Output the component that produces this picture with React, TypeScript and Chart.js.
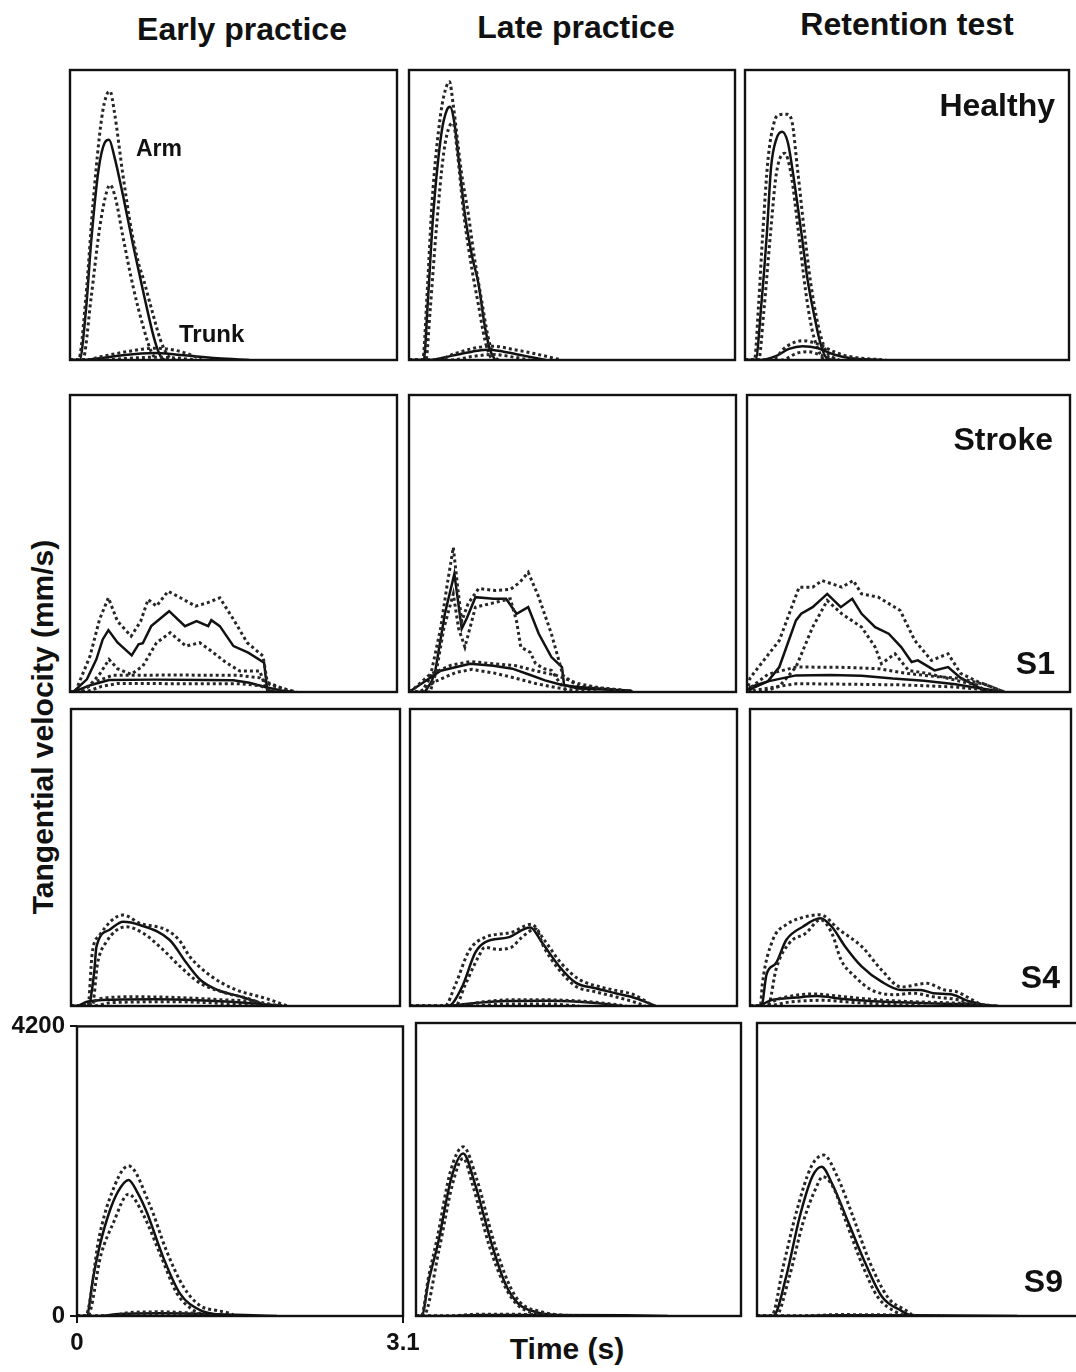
import React, { useEffect, useRef } from "react";
import { Chart, registerables } from "chart.js";

Chart.register(...registerables);

type Pt = [number, number];

// Time axis (s) and velocity axis (mm/s) limits shared by every panel
const timeRange: Pt = [0, 3.1];
const velocityRange: Pt = [0, 4200];
const timeTicks = [0, 3.1];
const velocityTicks = [0, 4200];

const columnTitles = ["Early practice", "Late practice", "Retention test"];
const rowTags = ["Healthy", "S1", "S4", "S9"];

// ---------- Healthy ----------
const healthyEarlyArm: Pt[] = [[0, 0], [0.09, 0], [0.15, 700], [0.2, 1700], [0.27, 2750], [0.33, 3150], [0.37, 3190], [0.42, 2950], [0.5, 2400], [0.6, 1650], [0.7, 950], [0.8, 300], [0.86, 50], [0.9, 0]];
const healthyEarlyArmHi: Pt[] = [[0, 0], [0.08, 0], [0.15, 900], [0.22, 2300], [0.3, 3500], [0.35, 3850], [0.38, 3890], [0.42, 3600], [0.5, 2700], [0.58, 1900], [0.65, 1400], [0.7, 1150], [0.78, 700], [0.86, 280], [0.93, 60], [1.0, 0]];
const healthyEarlyArmLo: Pt[] = [[0, 0], [0.12, 0], [0.2, 900], [0.28, 1900], [0.35, 2450], [0.38, 2534], [0.43, 2350], [0.5, 1800], [0.6, 1050], [0.7, 450], [0.77, 120], [0.82, 0]];
const healthyEarlyTrunk: Pt[] = [[0, 0], [0.1, 0], [0.3, 30], [0.5, 70], [0.8, 100], [1.0, 80], [1.2, 50], [1.4, 25], [1.7, 0]];
const healthyEarlyTrunkHi: Pt[] = [[0, 0], [0.15, 0], [0.3, 50], [0.5, 110], [0.8, 170], [1.0, 140], [1.15, 70], [1.25, 0]];
const healthyEarlyTrunkLo: Pt[] = [[0, 0], [0.3, 0], [0.5, 20], [0.8, 40], [1.0, 30], [1.2, 0]];

const healthyLateArm: Pt[] = [[0, 0], [0.14, 0], [0.18, 870], [0.23, 2100], [0.31, 3300], [0.36, 3620], [0.39, 3668], [0.43, 3450], [0.48, 2800], [0.53, 2124], [0.6, 1500], [0.66, 1110], [0.72, 500], [0.77, 150], [0.82, 0]];
const healthyLateArmHi: Pt[] = [[0, 0], [0.13, 0], [0.17, 900], [0.22, 2300], [0.3, 3550], [0.36, 3980], [0.385, 4030], [0.42, 3700], [0.5, 2700], [0.563, 2124], [0.62, 1500], [0.69, 869], [0.75, 350], [0.8, 80], [0.85, 0]];
const healthyLateArmLo: Pt[] = [[0, 0], [0.16, 0], [0.2, 700], [0.26, 1900], [0.33, 3000], [0.39, 3400], [0.42, 3430], [0.46, 3000], [0.52, 2124], [0.6, 1300], [0.66, 800], [0.72, 300], [0.77, 60], [0.8, 0]];
const healthyLateTrunk: Pt[] = [[0, 0], [0.2, 0], [0.4, 60], [0.6, 120], [0.75, 150], [0.9, 120], [1.1, 60], [1.3, 0]];
const healthyLateTrunkHi: Pt[] = [[0, 0], [0.25, 0], [0.45, 100], [0.65, 180], [0.8, 200], [1.0, 150], [1.2, 90], [1.45, 0]];
const healthyLateTrunkLo: Pt[] = [[0, 0], [0.4, 0], [0.6, 50], [0.8, 80], [1.0, 40], [1.15, 0]];

const healthyRetentionArm: Pt[] = [[0, 0], [0.1, 0], [0.16, 870], [0.21, 1850], [0.25, 2800], [0.3, 3200], [0.355, 3306], [0.41, 3150], [0.46, 2700], [0.54, 1834], [0.6, 1150], [0.665, 627], [0.72, 250], [0.78, 30], [0.85, 0]];
const healthyRetentionArmHi: Pt[] = [[0, 0], [0.09, 0], [0.13, 800], [0.17, 1834], [0.22, 2900], [0.28, 3450], [0.32, 3548], [0.4, 3560], [0.45, 3450], [0.5, 2800], [0.57, 1834], [0.63, 1100], [0.7, 500], [0.77, 150], [0.85, 30], [0.9, 0]];
const healthyRetentionArmLo: Pt[] = [[0, 0], [0.13, 0], [0.18, 700], [0.244, 1834], [0.3, 2700], [0.38, 2993], [0.44, 2700], [0.513, 1834], [0.58, 1000], [0.64, 450], [0.7, 150], [0.75, 0]];
const healthyRetentionTrunk: Pt[] = [[0, 0], [0.15, 0], [0.3, 60], [0.42, 160], [0.55, 200], [0.7, 170], [0.85, 80], [1.0, 30], [1.3, 0]];
const healthyRetentionTrunkHi: Pt[] = [[0, 0], [0.25, 0], [0.4, 200], [0.55, 280], [0.7, 230], [0.85, 120], [1.0, 50], [1.35, 0]];
const healthyRetentionTrunkLo: Pt[] = [[0, 0], [0.35, 0], [0.5, 100], [0.6, 120], [0.75, 60], [0.9, 0]];

// ---------- Stroke S1 ----------
const s1EarlyArm: Pt[] = [[0, 0], [0.03, 0], [0.16, 179], [0.25, 461], [0.31, 743], [0.364, 875], [0.45, 700], [0.585, 518], [0.65, 673], [0.69, 690], [0.77, 931], [0.94, 1143], [1.09, 931], [1.2, 1002], [1.31, 931], [1.34, 1016], [1.42, 931], [1.55, 649], [1.69, 556], [1.84, 415], [1.87, 20], [1.95, 0]];
const s1EarlyArmHi: Pt[] = [[0, 0], [0.05, 0], [0.19, 508], [0.28, 1026], [0.364, 1332], [0.45, 1000], [0.58, 790], [0.67, 1000], [0.74, 1308], [0.82, 1214], [0.93, 1425], [1.05, 1330], [1.19, 1214], [1.3, 1260], [1.42, 1332], [1.55, 1026], [1.68, 697], [1.83, 508], [1.87, 137], [2.0, 60], [2.13, 0]];
const s1EarlyArmLo: Pt[] = [[0, 0], [0.1, 0], [0.19, 100], [0.28, 250], [0.37, 461], [0.45, 330], [0.58, 250], [0.69, 367], [0.82, 697], [0.95, 838], [1.1, 649], [1.23, 697], [1.36, 556], [1.48, 415], [1.61, 297], [1.8, 297], [1.85, 80], [1.9, 0]];
const s1EarlyTrunk: Pt[] = [[0, 0], [0.03, 0], [0.2, 100], [0.37, 170], [0.8, 175], [1.3, 170], [1.55, 165], [1.7, 130], [1.85, 70], [2.0, 20], [2.13, 0]];
const s1EarlyTrunkHi: Pt[] = [[0, 0], [0.1, 0], [0.25, 150], [0.4, 235], [1.0, 240], [1.6, 235], [1.8, 200], [1.9, 100], [2.05, 30], [2.15, 0]];
const s1EarlyTrunkLo: Pt[] = [[0, 0], [0.15, 0], [0.3, 80], [0.45, 120], [1.0, 118], [1.6, 118], [1.8, 90], [1.9, 30], [2.0, 0]];

const s1LateArm: Pt[] = [[0, 0], [0.15, 0], [0.215, 150], [0.25, 306], [0.34, 1106], [0.43, 1671], [0.5, 895], [0.55, 1050], [0.63, 1341], [0.8, 1320], [0.92, 1318], [1.02, 1106], [1.13, 1200], [1.23, 824], [1.35, 494], [1.45, 353], [1.47, 100], [1.6, 50], [2.1, 20], [2.12, 0]];
const s1LateArmHi: Pt[] = [[0, 0], [0.12, 0], [0.2, 200], [0.3, 900], [0.36, 1500], [0.42, 2046], [0.46, 1500], [0.5, 1000], [0.56, 1250], [0.66, 1463], [0.82, 1435], [0.96, 1450], [1.05, 1550], [1.13, 1693], [1.23, 1341], [1.35, 824], [1.46, 235], [1.6, 80], [2.0, 30], [2.1, 0]];
const s1LateArmLo: Pt[] = [[0, 0], [0.2, 0], [0.26, 300], [0.33, 900], [0.42, 1388], [0.47, 900], [0.53, 635], [0.63, 1200], [0.8, 1260], [0.96, 1318], [1.02, 1000], [1.06, 635], [1.15, 560], [1.2, 400], [1.28, 330], [1.35, 306], [1.42, 150], [1.5, 0]];
const s1LateTrunk: Pt[] = [[0, 0], [0.1, 100], [0.3, 300], [0.58, 400], [0.8, 370], [0.98, 330], [1.15, 240], [1.29, 165], [1.45, 100], [1.6, 70], [1.9, 40], [2.1, 0]];
const s1LateTrunkHi: Pt[] = [[0, 0], [0.05, 50], [0.2, 250], [0.4, 380], [0.58, 430], [0.8, 400], [1.0, 376], [1.2, 300], [1.4, 235], [1.6, 120], [1.8, 60], [2.0, 30], [2.1, 0]];
const s1LateTrunkLo: Pt[] = [[0, 0], [0.1, 0], [0.25, 150], [0.45, 280], [0.6, 320], [0.8, 270], [1.0, 200], [1.2, 120], [1.4, 60], [1.6, 20], [1.8, 0]];

const s1RetentionArm: Pt[] = [[0, 0], [0.03, 70], [0.2, 150], [0.31, 353], [0.47, 1012], [0.52, 1106], [0.63, 1200], [0.77, 1388], [0.9, 1200], [1.01, 1318], [1.1, 1106], [1.23, 917], [1.36, 824], [1.48, 635], [1.58, 424], [1.64, 447], [1.8, 306], [1.93, 353], [2.05, 200], [2.18, 100], [2.3, 0]];
const s1RetentionArmHi: Pt[] = [[0, 0], [0.03, 200], [0.31, 729], [0.5, 1482], [0.63, 1482], [0.72, 1576], [0.91, 1482], [1.02, 1576], [1.1, 1388], [1.26, 1341], [1.47, 1153], [1.61, 729], [1.77, 447], [1.93, 541], [2.05, 263], [2.21, 150], [2.47, 0]];
const s1RetentionArmLo: Pt[] = [[0, 0], [0.15, 0], [0.31, 80], [0.47, 353], [0.63, 917], [0.77, 1294], [0.91, 1106], [1.1, 917], [1.23, 635], [1.29, 400], [1.42, 541], [1.55, 306], [1.74, 260], [2.05, 150], [2.21, 100], [2.3, 0]];
const s1RetentionTrunk: Pt[] = [[0, 0], [0.05, 50], [0.2, 150], [0.47, 235], [0.8, 240], [1.1, 230], [1.4, 190], [1.7, 160], [2.0, 110], [2.2, 60], [2.47, 0]];
const s1RetentionTrunkHi: Pt[] = [[0, 0], [0.05, 80], [0.2, 250], [0.47, 353], [0.9, 350], [1.26, 330], [1.55, 260], [1.8, 220], [2.05, 190], [2.3, 100], [2.47, 0]];
const s1RetentionTrunkLo: Pt[] = [[0, 0], [0.1, 30], [0.47, 118], [1.0, 110], [1.5, 100], [2.0, 70], [2.3, 30], [2.47, 0]];

// ---------- Stroke S4 ----------
const s4EarlyArm: Pt[] = [[0, 0], [0.17, 0], [0.19, 150], [0.22, 500], [0.24, 839], [0.36, 1075], [0.49, 1192], [0.65, 1145], [0.93, 933], [1.09, 604], [1.22, 368], [1.38, 226], [1.6, 132], [1.79, 38], [1.85, 0]];
const s4EarlyArmHi: Pt[] = [[0, 0], [0.16, 0], [0.2, 750], [0.27, 1000], [0.49, 1287], [0.65, 1170], [0.9, 1075], [1.02, 930], [1.12, 697], [1.31, 433], [1.53, 245], [1.85, 100], [2.04, 0]];
const s4EarlyArmLo: Pt[] = [[0, 0], [0.2, 0], [0.25, 600], [0.33, 900], [0.52, 1120], [0.68, 1030], [0.87, 792], [1.03, 556], [1.22, 320], [1.47, 180], [1.72, 80], [1.82, 0]];
const s4EarlyTrunk: Pt[] = [[0, 0], [0.05, 0], [0.15, 60], [0.4, 90], [0.8, 95], [1.2, 80], [1.6, 50], [1.85, 20], [2.0, 0]];
const s4EarlyTrunkHi: Pt[] = [[0, 0], [0.1, 0], [0.3, 110], [0.6, 130], [1.0, 120], [1.4, 90], [1.75, 60], [1.9, 20], [2.0, 0]];
const s4EarlyTrunkLo: Pt[] = [[0, 0], [0.2, 0], [0.4, 50], [1.0, 60], [1.5, 30], [1.8, 0]];

const s4LateArm: Pt[] = [[0, 0], [0.364, 0], [0.49, 259], [0.62, 758], [0.71, 900], [0.93, 970], [1.14, 1111], [1.25, 900], [1.41, 570], [1.57, 330], [1.76, 250], [1.95, 180], [2.14, 110], [2.33, 0]];
const s4LateArmHi: Pt[] = [[0, 0], [0.33, 0], [0.43, 300], [0.56, 780], [0.71, 970], [0.96, 1040], [1.15, 1155], [1.27, 940], [1.43, 610], [1.6, 380], [1.86, 250], [2.12, 160], [2.31, 0]];
const s4LateArmLo: Pt[] = [[0, 0], [0.43, 0], [0.52, 287], [0.65, 700], [0.71, 830], [0.83, 800], [0.96, 830], [1.06, 970], [1.19, 1090], [1.27, 830], [1.41, 520], [1.57, 280], [1.76, 200], [1.95, 130], [2.14, 50], [2.23, 0]];
const s4LateTrunk: Pt[] = [[0, 0], [0.3, 0], [0.6, 40], [0.9, 70], [1.3, 75], [1.6, 60], [1.85, 30], [2.0, 0]];
const s4LateTrunkHi: Pt[] = [[0, 0], [0.4, 0], [0.7, 60], [1.0, 90], [1.4, 85], [1.7, 60], [1.95, 20], [2.05, 0]];
const s4LateTrunkLo: Pt[] = [[0, 0], [0.6, 0], [0.9, 30], [1.3, 30], [1.6, 0]];

const s4RetentionArm: Pt[] = [[0, 0], [0.11, 0], [0.16, 448], [0.25, 604], [0.35, 933], [0.51, 1121], [0.68, 1240], [0.79, 1121], [0.92, 839], [1.08, 556], [1.27, 344], [1.46, 226], [1.65, 226], [1.77, 180], [1.96, 160], [2.09, 80], [2.22, 30], [2.3, 0]];
const s4RetentionArmHi: Pt[] = [[0, 0], [0.1, 0], [0.12, 320], [0.22, 933], [0.35, 1150], [0.48, 1240], [0.68, 1290], [0.86, 1080], [1.08, 840], [1.27, 510], [1.46, 270], [1.71, 320], [1.87, 230], [2.0, 200], [2.13, 100], [2.25, 0]];
const s4RetentionArmLo: Pt[] = [[0, 0], [0.17, 0], [0.19, 50], [0.25, 510], [0.38, 890], [0.54, 1030], [0.68, 1220], [0.79, 1030], [0.88, 650], [1.01, 420], [1.17, 230], [1.39, 160], [1.58, 180], [1.77, 130], [2.03, 80], [2.16, 0]];
const s4RetentionTrunk: Pt[] = [[0, 0], [0.07, 0], [0.2, 80], [0.45, 120], [0.65, 140], [0.9, 100], [1.3, 60], [1.7, 40], [2.2, 20], [2.4, 0]];
const s4RetentionTrunkHi: Pt[] = [[0, 0], [0.1, 0], [0.3, 110], [0.6, 170], [0.85, 140], [1.2, 90], [1.6, 60], [2.0, 40], [2.4, 0]];
const s4RetentionTrunkLo: Pt[] = [[0, 0], [0.15, 0], [0.4, 60], [0.7, 80], [1.0, 50], [1.4, 20], [1.7, 0]];

// ---------- Stroke S9 ----------
const s9EarlyArm: Pt[] = [[0, 0], [0.09, 0], [0.155, 570], [0.22, 1042], [0.31, 1519], [0.39, 1805], [0.49, 1973], [0.57, 1805], [0.66, 1519], [0.82, 850], [0.98, 325], [1.17, 86], [1.46, 0]];
const s9EarlyArmHi: Pt[] = [[0, 0], [0.08, 0], [0.21, 1140], [0.31, 1700], [0.49, 2178], [0.69, 1620], [0.85, 950], [1.01, 430], [1.17, 150], [1.33, 80], [1.45, 40], [1.5, 0]];
const s9EarlyArmLo: Pt[] = [[0, 0], [0.1, 0], [0.23, 900], [0.34, 1330], [0.49, 1767], [0.63, 1470], [0.79, 900], [0.95, 330], [1.1, 90], [1.23, 0]];
const s9EarlyTrunk: Pt[] = [[0, 0], [0.2, 0], [0.4, 30], [0.8, 40], [1.2, 30], [1.6, 15], [1.9, 0]];
const s9EarlyTrunkHi: Pt[] = [[0, 0], [0.3, 0], [0.5, 50], [0.8, 60], [1.1, 40], [1.3, 0]];
const s9EarlyTrunkLo: Pt[] = [[0, 0], [0.4, 0], [0.6, 15], [1.0, 15], [1.2, 0]];

const s9LateArm: Pt[] = [[0, 0], [0.054, 0], [0.12, 500], [0.21, 1042], [0.34, 1996], [0.45, 2331], [0.56, 1906], [0.72, 1042], [0.85, 470], [0.97, 186], [1.16, 50], [1.44, 0]];
const s9LateArmHi: Pt[] = [[0, 0], [0.05, 0], [0.12, 560], [0.2, 1100], [0.33, 2080], [0.45, 2426], [0.58, 1960], [0.74, 1080], [0.88, 480], [0.99, 200], [1.2, 60], [1.44, 0]];
const s9LateArmLo: Pt[] = [[0, 0], [0.07, 0], [0.22, 950], [0.35, 1900], [0.45, 2260], [0.54, 1880], [0.7, 1000], [0.84, 450], [0.96, 170], [1.13, 40], [1.32, 0]];
const s9LateTrunk: Pt[] = [[0, 0], [0.3, 0], [0.6, 15], [1.2, 15], [2.0, 10], [2.4, 0]];
const s9LateTrunkHi: Pt[] = [[0, 0], [0.3, 0], [0.6, 25], [1.2, 20], [1.6, 0]];
const s9LateTrunkLo: Pt[] = [[0, 0], [0.5, 0], [0.8, 8], [1.1, 0]];

const s9RetentionArm: Pt[] = [[0, 0], [0.155, 0], [0.28, 565], [0.41, 1423], [0.53, 1996], [0.62, 2140], [0.72, 1900], [0.88, 1330], [1.04, 755], [1.2, 277], [1.39, 70], [1.48, 0]];
const s9RetentionArmHi: Pt[] = [[0, 0], [0.14, 0], [0.25, 700], [0.38, 1500], [0.52, 2140], [0.64, 2307], [0.77, 2000], [0.92, 1430], [1.08, 780], [1.26, 260], [1.45, 60], [1.5, 0]];
const s9RetentionArmLo: Pt[] = [[0, 0], [0.18, 0], [0.31, 560], [0.44, 1330], [0.57, 1850], [0.63, 1996], [0.73, 1850], [0.86, 1330], [1.02, 700], [1.16, 270], [1.33, 60], [1.43, 0]];
const s9RetentionTrunk: Pt[] = [[0, 0], [0.3, 0], [0.8, 10], [1.5, 10], [2.5, 0]];
const s9RetentionTrunkHi: Pt[] = [[0, 0], [0.4, 0], [0.8, 20], [1.3, 15], [1.8, 0]];
const s9RetentionTrunkLo: Pt[] = [[0, 0], [0.6, 0], [1.0, 5], [1.4, 0]];

// ---------- layout of the 4 x 3 panel grid (page pixels) ----------
const ROW_TOP = [70, 395, 709, 1023];
const ROW_BOTTOM = [360, 692, 1006, 1316];
const COL_LEFT = [[70, 409, 745], [70, 409, 747], [71, 410, 750], [77, 416, 757]];
const COL_RIGHT = [[397, 735, 1069], [397, 736, 1070], [400, 737, 1071], [403, 741, 1080]];

const FONT = '"Liberation Sans", Arial, Helvetica, sans-serif';
const INK = "#111111";

type PanelSpec = {
  row: number;
  col: number;
  jagged: boolean;
  arm: Pt[];
  armHi: Pt[];
  armLo: Pt[];
  trunk: Pt[];
  trunkHi: Pt[];
  trunkLo: Pt[];
};

const panels: PanelSpec[] = [
  { row: 0, col: 0, jagged: false, arm: healthyEarlyArm, armHi: healthyEarlyArmHi, armLo: healthyEarlyArmLo, trunk: healthyEarlyTrunk, trunkHi: healthyEarlyTrunkHi, trunkLo: healthyEarlyTrunkLo },
  { row: 0, col: 1, jagged: false, arm: healthyLateArm, armHi: healthyLateArmHi, armLo: healthyLateArmLo, trunk: healthyLateTrunk, trunkHi: healthyLateTrunkHi, trunkLo: healthyLateTrunkLo },
  { row: 0, col: 2, jagged: false, arm: healthyRetentionArm, armHi: healthyRetentionArmHi, armLo: healthyRetentionArmLo, trunk: healthyRetentionTrunk, trunkHi: healthyRetentionTrunkHi, trunkLo: healthyRetentionTrunkLo },
  { row: 1, col: 0, jagged: true, arm: s1EarlyArm, armHi: s1EarlyArmHi, armLo: s1EarlyArmLo, trunk: s1EarlyTrunk, trunkHi: s1EarlyTrunkHi, trunkLo: s1EarlyTrunkLo },
  { row: 1, col: 1, jagged: true, arm: s1LateArm, armHi: s1LateArmHi, armLo: s1LateArmLo, trunk: s1LateTrunk, trunkHi: s1LateTrunkHi, trunkLo: s1LateTrunkLo },
  { row: 1, col: 2, jagged: true, arm: s1RetentionArm, armHi: s1RetentionArmHi, armLo: s1RetentionArmLo, trunk: s1RetentionTrunk, trunkHi: s1RetentionTrunkHi, trunkLo: s1RetentionTrunkLo },
  { row: 2, col: 0, jagged: false, arm: s4EarlyArm, armHi: s4EarlyArmHi, armLo: s4EarlyArmLo, trunk: s4EarlyTrunk, trunkHi: s4EarlyTrunkHi, trunkLo: s4EarlyTrunkLo },
  { row: 2, col: 1, jagged: false, arm: s4LateArm, armHi: s4LateArmHi, armLo: s4LateArmLo, trunk: s4LateTrunk, trunkHi: s4LateTrunkHi, trunkLo: s4LateTrunkLo },
  { row: 2, col: 2, jagged: false, arm: s4RetentionArm, armHi: s4RetentionArmHi, armLo: s4RetentionArmLo, trunk: s4RetentionTrunk, trunkHi: s4RetentionTrunkHi, trunkLo: s4RetentionTrunkLo },
  { row: 3, col: 0, jagged: false, arm: s9EarlyArm, armHi: s9EarlyArmHi, armLo: s9EarlyArmLo, trunk: s9EarlyTrunk, trunkHi: s9EarlyTrunkHi, trunkLo: s9EarlyTrunkLo },
  { row: 3, col: 1, jagged: false, arm: s9LateArm, armHi: s9LateArmHi, armLo: s9LateArmLo, trunk: s9LateTrunk, trunkHi: s9LateTrunkHi, trunkLo: s9LateTrunkLo },
  { row: 3, col: 2, jagged: false, arm: s9RetentionArm, armHi: s9RetentionArmHi, armLo: s9RetentionArmLo, trunk: s9RetentionTrunk, trunkHi: s9RetentionTrunkHi, trunkLo: s9RetentionTrunkLo },
];

// Draws the rectangular frame around each plotting area
const framePlugin = {
  id: "panelFrame",
  afterDatasetsDraw(chart: any) {
    const { ctx, chartArea: a } = chart;
    ctx.save();
    ctx.strokeStyle = INK;
    ctx.lineWidth = 2.4;
    ctx.strokeRect(a.left, a.top, a.right - a.left, a.bottom - a.top);
    ctx.restore();
  },
};

function geometry(spec: PanelSpec) {
  const left = COL_LEFT[spec.row][spec.col];
  const right = COL_RIGHT[spec.row][spec.col];
  const top = ROW_TOP[spec.row];
  const bottom = ROW_BOTTOM[spec.row];
  const withAxes = spec.row === 3 && spec.col === 0;
  if (withAxes) {
    const yAxisW = left;
    const xAxisH = 46;
    const pad = { left: 0, top: 16, right: 24, bottom: 0 };
    return {
      withAxes, yAxisW, xAxisH, pad,
      x: 0,
      y: top - pad.top,
      w: yAxisW + (right - left) + pad.right,
      h: pad.top + (bottom - top) + xAxisH,
    };
  }
  const p = 3;
  return {
    withAxes, yAxisW: 0, xAxisH: 0,
    pad: { left: p, top: p, right: p, bottom: p },
    x: left - p,
    y: top - p,
    w: right - left + 2 * p,
    h: bottom - top + 2 * p,
  };
}

function Panel({ spec }: { spec: PanelSpec }) {
  const ref = useRef<HTMLCanvasElement>(null);
  const g = geometry(spec);

  useEffect(() => {
    const canvas = ref.current;
    if (!canvas) return;
    const toXY = (pts: Pt[]) => pts.map(([x, y]) => ({ x, y }));
    const interp = spec.jagged ? {} : { cubicInterpolationMode: "monotone" as const };
    const mean = { borderColor: INK, borderWidth: 2.5, borderDash: [] as number[], pointRadius: 0, fill: false, tension: 0, ...interp };
    const sd = { borderColor: "#262626", borderWidth: 3, borderDash: [3, 3], pointRadius: 0, fill: false, tension: 0, ...interp };

    const tickFont = { family: FONT, size: 24, weight: "bold" as const };
    const axisGrid = { display: true, drawOnChartArea: false, drawTicks: true, tickLength: 7, color: INK, lineWidth: 2 };

    const chart = new Chart(canvas, {
      type: "line",
      data: {
        datasets: [
          { label: "Trunk +SD", data: toXY(spec.trunkHi), ...sd },
          { label: "Trunk -SD", data: toXY(spec.trunkLo), ...sd },
          { label: "Trunk", data: toXY(spec.trunk), ...mean },
          { label: "Arm +SD", data: toXY(spec.armHi), ...sd },
          { label: "Arm -SD", data: toXY(spec.armLo), ...sd },
          { label: "Arm", data: toXY(spec.arm), ...mean },
        ],
      },
      options: {
        responsive: false,
        maintainAspectRatio: false,
        animation: false,
        events: [],
        layout: { padding: g.pad },
        plugins: { legend: { display: false }, tooltip: { enabled: false } },
        scales: {
          x: {
            type: "linear",
            min: timeRange[0],
            max: timeRange[1],
            display: g.withAxes,
            grid: axisGrid,
            border: { display: false },
            ticks: {
              autoSkip: false,
              maxRotation: 0,
              padding: 6,
              color: INK,
              font: tickFont,
              callback: (v: any) => String(v),
            },
            afterBuildTicks: (s: any) => {
              s.ticks = timeTicks.map((value) => ({ value }));
            },
            afterFit: (s: any) => {
              if (g.withAxes) s.height = g.xAxisH;
            },
          },
          y: {
            type: "linear",
            min: velocityRange[0],
            max: velocityRange[1],
            display: g.withAxes,
            grid: axisGrid,
            border: { display: false },
            ticks: {
              autoSkip: false,
              padding: 5,
              color: INK,
              font: tickFont,
              callback: (v: any) => String(v),
            },
            afterBuildTicks: (s: any) => {
              s.ticks = velocityTicks.map((value) => ({ value }));
            },
            afterFit: (s: any) => {
              if (g.withAxes) s.width = g.yAxisW;
            },
          },
        },
      },
      plugins: [framePlugin],
    } as any);
    return () => chart.destroy();
  }, []);

  return (
    <canvas
      ref={ref}
      width={g.w}
      height={g.h}
      style={{ position: "absolute", left: g.x, top: g.y, width: g.w, height: g.h, display: "block" }}
    />
  );
}

type Label = { text: string; x: number; y: number; size: number; align: "left" | "center" | "right"; rotate?: boolean };

const labels: Label[] = [
  { text: columnTitles[0], x: 242, y: 29, size: 32, align: "center" },
  { text: columnTitles[1], x: 576, y: 27, size: 32, align: "center" },
  { text: columnTitles[2], x: 907, y: 24, size: 32, align: "center" },
  { text: rowTags[0], x: 1055, y: 105, size: 32, align: "right" },
  { text: "Stroke", x: 1053, y: 439, size: 32, align: "right" },
  { text: rowTags[1], x: 1055, y: 663, size: 32, align: "right" },
  { text: rowTags[2], x: 1060, y: 977, size: 32, align: "right" },
  { text: rowTags[3], x: 1063, y: 1281, size: 32, align: "right" },
  { text: "Arm", x: 136, y: 148, size: 23, align: "left" },
  { text: "Trunk", x: 179, y: 334, size: 24, align: "left" },
  { text: "Tangential velocity (mm/s)", x: 43, y: 727, size: 30, align: "center", rotate: true },
  { text: "Time (s)", x: 567, y: 1349, size: 30, align: "center" },
];

function TextLabel({ l }: { l: Label }) {
  const tx = l.align === "center" ? "-50%" : l.align === "right" ? "-100%" : "0";
  return (
    <div
      style={{
        position: "absolute",
        left: l.x,
        top: l.y,
        transform: `translate(${tx}, -50%)${l.rotate ? " rotate(-90deg)" : ""}`,
        transformOrigin: l.rotate ? "50% 50%" : undefined,
        fontFamily: FONT,
        fontWeight: "bold",
        fontSize: l.size,
        lineHeight: 1,
        color: INK,
        whiteSpace: "nowrap",
      }}
    >
      {l.text}
    </div>
  );
}

export default function App() {
  return (
    <div
      style={{
        position: "absolute",
        left: 0,
        top: 0,
        width: 1076,
        height: 1372,
        overflow: "hidden",
        background: "#ffffff",
      }}
    >
      {panels.map((p) => (
        <Panel key={`${p.row}-${p.col}`} spec={p} />
      ))}
      {labels.map((l) => (
        <TextLabel key={l.text} l={l} />
      ))}
    </div>
  );
}
